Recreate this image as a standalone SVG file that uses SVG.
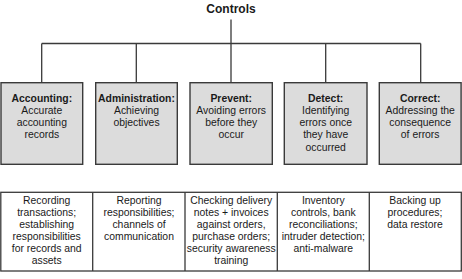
<svg xmlns="http://www.w3.org/2000/svg" width="462" height="279" viewBox="0 0 462 279">
<style>
text{font-family:"Liberation Sans",Arial,sans-serif;font-size:10.4px;fill:#1a1a1a;text-anchor:middle}
.t{font-weight:bold}
.title{font-weight:bold;font-size:12px}
.box{fill:#dcdcdc;stroke:#3a3a3a;stroke-width:1.4}
.cell{fill:#fff;stroke:#3a3a3a;stroke-width:1.3}
.ln{stroke:#3a3a3a;stroke-width:1.3;fill:none}
</style>
<rect width="462" height="279" fill="#fff"/>
<g id="title"><text class="title" x="231" y="13">Controls</text></g>
<g id="connectors">
<path class="ln" d="M231 19.5V43.5M41.7 43.5H420.7M41.7 43.5V82.7M136.3 43.5V82.7M231 43.5V82.7M325.7 43.5V82.7M420.7 43.5V82.7"/>
</g>
<g id="accounting">
<rect class="box" x="1" y="82.7" width="81.7" height="81.6"/>
<text class="t" x="41.8" y="101.5">Accounting:</text>
<text x="41.8" y="113.8">Accurate</text>
<text x="41.8" y="126">accounting</text>
<text x="41.8" y="138.3">records</text>
</g>
<g id="administration">
<rect class="box" x="95.7" y="82.7" width="81.6" height="81.6"/>
<text class="t" x="136.5" y="101.5">Administration:</text>
<text x="136.5" y="113.8">Achieving</text>
<text x="136.5" y="126">objectives</text>
</g>
<g id="prevent">
<rect class="box" x="190" y="82.7" width="82.3" height="81.6"/>
<text class="t" x="231.2" y="101.5">Prevent:</text>
<text x="231.2" y="113.8">Avoiding errors</text>
<text x="231.2" y="126">before they</text>
<text x="231.2" y="138.3">occur</text>
</g>
<g id="detect">
<rect class="box" x="284.3" y="82.7" width="82.7" height="81.6"/>
<text class="t" x="325.7" y="101.5">Detect:</text>
<text x="325.7" y="113.8">Identifying</text>
<text x="325.7" y="126">errors once</text>
<text x="325.7" y="138.3">they have</text>
<text x="325.7" y="150.6">occurred</text>
</g>
<g id="correct">
<rect class="box" x="379.3" y="82.7" width="81.8" height="81.6"/>
<text class="t" x="420.2" y="101.5">Correct:</text>
<text x="420.2" y="113.8">Addressing the</text>
<text x="420.2" y="126">consequence</text>
<text x="420.2" y="138.3">of errors</text>
</g>
<g id="table">
<rect class="cell" x="0.8" y="192.3" width="460.5" height="78.7"/>
<path class="ln" d="M92.7 192.3V271M185 192.3V271M277.3 192.3V271M369.3 192.3V271"/>
</g>
<g id="cell-accounting">
<text x="46.7" y="204.3">Recording</text>
<text x="46.7" y="216.3">transactions;</text>
<text x="46.7" y="228.3">establishing</text>
<text x="46.7" y="240.3">responsibilities</text>
<text x="46.7" y="252.3">for records and</text>
<text x="46.7" y="264.3">assets</text>
</g>
<g id="cell-administration">
<text x="139" y="204.3">Reporting</text>
<text x="139" y="216.3">responsibilities;</text>
<text x="139" y="228.3">channels of</text>
<text x="139" y="240.3">communication</text>
</g>
<g id="cell-prevent">
<text x="231.2" y="204.3">Checking delivery</text>
<text x="231.2" y="216.3">notes + invoices</text>
<text x="231.2" y="228.3">against orders,</text>
<text x="231.2" y="240.3">purchase orders;</text>
<text x="231.2" y="252.3">security awareness</text>
<text x="231.2" y="264.3">training</text>
</g>
<g id="cell-detect">
<text x="323.3" y="204.3">Inventory</text>
<text x="323.3" y="216.3">controls, bank</text>
<text x="323.3" y="228.3">reconciliations;</text>
<text x="323.3" y="240.3">intruder detection;</text>
<text x="323.3" y="252.3">anti-malware</text>
</g>
<g id="cell-correct">
<text x="415" y="204.3">Backing up</text>
<text x="415" y="216.3">procedures;</text>
<text x="415" y="228.3">data restore</text>
</g>
</svg>
